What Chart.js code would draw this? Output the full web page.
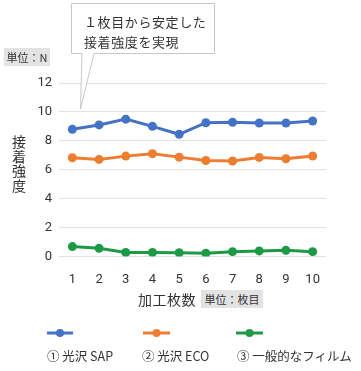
<!DOCTYPE html>
<html><head><meta charset="utf-8">
<script src="https://cdn.jsdelivr.net/npm/chart.js@4/dist/chart.umd.min.js"></script>
<style>
html,body{margin:0;padding:0;background:#fff;}
#wrap{position:relative;width:361px;height:371px;overflow:hidden;font-family:"Noto Sans CJK JP","Noto Sans",sans-serif;color:#333;}
canvas{position:absolute;left:0;top:0;}
.t{position:absolute;white-space:nowrap;line-height:1;}
.unit{position:absolute;background:#e3e3e3;font-size:11px;line-height:1;display:flex;align-items:center;justify-content:center;}
</style></head>
<body><div id="wrap">
<canvas id="c" width="361" height="371"></canvas>
<div class="t" style="left:84px;top:12px;font-size:13px;letter-spacing:0.6px;line-height:20px;">１枚目から安定した<br>接着強度を実現</div>
<div class="unit" style="left:4px;top:48px;width:46px;height:18px;">単位：N</div>
<div class="t" style="left:12px;top:134px;font-size:14px;width:15px;line-height:14.5px;">接<br>着<br>強<br>度</div>
<div class="t" style="left:138px;top:292px;font-size:14px;letter-spacing:0.5px;">加工枚数</div>
<div class="unit" style="left:201px;top:290px;width:62px;height:18px;">単位：枚目</div>
<div class="t" id="l0" style="left:47px;top:350px;font-size:12.5px;"></div>
<div class="t" id="l1" style="left:142px;top:350px;font-size:12.5px;"></div>
<div class="t" id="l2" style="left:237px;top:350px;font-size:12.5px;"></div>
</div>
<script>
const categories = ["1","2","3","4","5","6","7","8","9","10"];
const seriesNames = ["① 光沢 SAP","② 光沢 ECO","③ 一般的なフィルム"];
const sapValues = [8.8, 9.1, 9.5, 9.0, 8.45, 9.25, 9.28, 9.23, 9.23, 9.37];
const ecoValues = [6.83, 6.71, 6.94, 7.11, 6.87, 6.64, 6.6, 6.85, 6.76, 6.94];
const filmValues = [0.68, 0.56, 0.27, 0.27, 0.25, 0.22, 0.33, 0.38, 0.42, 0.33];
const yTicks = [0, 2, 4, 6, 8, 10, 12];
const colors = ["#4472C4", "#ED7D31", "#1E9A47"];

seriesNames.forEach((n,i)=>{document.getElementById('l'+i).textContent=n;});

const legendX = [[47,73],[143,170],[236,263]];
const extras = {
  id:'extras',
  afterDraw(chart){
    const ctx = chart.ctx;
    ctx.save();
    ctx.strokeStyle = '#c8c8c8';
    ctx.fillStyle = '#fff';
    ctx.lineWidth = 1;
    ctx.beginPath();
    ctx.moveTo(71.5,3.5); ctx.lineTo(214.5,3.5); ctx.lineTo(214.5,53.5);
    ctx.lineTo(94,53.5); ctx.lineTo(80.5,109); ctx.lineTo(82,53.5);
    ctx.lineTo(71.5,53.5); ctx.closePath();
    ctx.fill(); ctx.stroke();
    chart.data.datasets.forEach((ds,i)=>{
      const [a,b] = legendX[i];
      ctx.strokeStyle = ds.borderColor; ctx.lineWidth = 3;
      ctx.beginPath(); ctx.moveTo(a,333); ctx.lineTo(b,333); ctx.stroke();
      ctx.fillStyle = ds.borderColor;
      ctx.beginPath(); ctx.arc((a+b)/2,333,4,0,Math.PI*2); ctx.fill();
    });
    ctx.restore();
  }
};

new Chart(document.getElementById('c'), {
  type:'line',
  data:{
    labels:categories,
    datasets:[sapValues,ecoValues,filmValues].map((v,i)=>({
      label:seriesNames[i], data:v, borderColor:colors[i], backgroundColor:colors[i],
      borderWidth:3, pointRadius:4.5, pointBackgroundColor:colors[i], pointBorderWidth:0,
      tension:0
    }))
  },
  options:{
    responsive:false, animation:false, devicePixelRatio:1,
    layout:{padding:{left:0,right:35,top:83,bottom:75}},
    plugins:{legend:{display:false},tooltip:{enabled:false}},
    scales:{
      x:{offset:true, grid:{display:false}, border:{display:false},
         ticks:{color:'#333',font:{family:'Roboto',size:13},padding:8,maxRotation:0}},
      y:{min:0,max:12, afterBuildTicks(s){s.ticks=yTicks.map(v=>({value:v}));},
         afterFit(s){s.width=59;},
         grid:{color:'#e2e2e2',lineWidth:1,drawTicks:false}, border:{display:false},
         ticks:{color:'#333',font:{family:'Roboto',size:13},padding:7}}
    }
  },
  plugins:[extras]
});
</script>
</body></html>
